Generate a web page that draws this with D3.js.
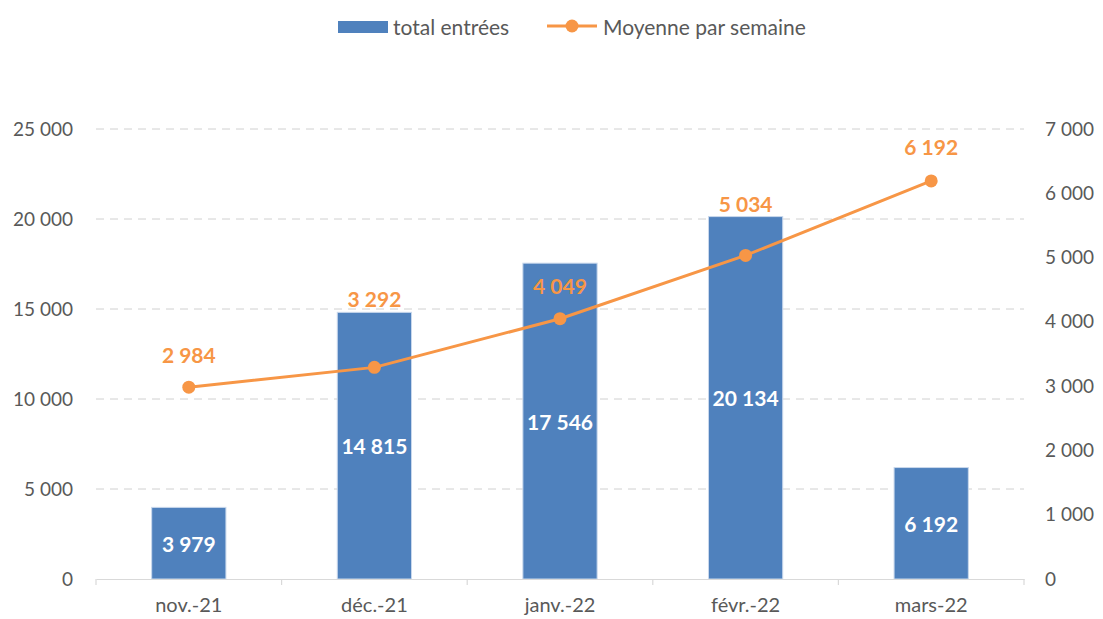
<!DOCTYPE html>
<html>
<head>
<meta charset="utf-8">
<script src="https://cdn.jsdelivr.net/npm/d3@7"></script>
<style>
  html, body { margin: 0; padding: 0; background: #ffffff; }
  svg { display: block; font-family: Lato, "Open Sans", sans-serif; }
</style>
</head>
<body>
<svg id="chart" width="1103" height="619"></svg>
<script>
// ---- data ----
const categories = ["nov.-21", "déc.-21", "janv.-22", "févr.-22", "mars-22"];
const totalEntrees = [3979, 14815, 17546, 20134, 6192];
const moyenneSemaine = [2984, 3292, 4049, 5034, 6192];
const leftTicks = [0, 5000, 10000, 15000, 20000, 25000];
const rightTicks = [0, 1000, 2000, 3000, 4000, 5000, 6000, 7000];
const seriesNames = ["total entrées", "Moyenne par semaine"];

// ---- layout ----
const W = 1103, H = 619;
const plot = { left: 96, right: 1024, top: 129, bottom: 579 };
const lineLabelDy = [-33, -69, -33, -52, -34]; // manual label placement as in the original
const blue = "#4F81BD", orange = "#F79646", textGrey = "#595959", gridGrey = "#D9D9D9";

const fmt = v => d3.format(",")(v).replace(/,/g, " ");

const svg = d3.select("#chart");

const x = d3.scaleBand().domain(categories).range([plot.left, plot.right]).paddingInner(0.6).paddingOuter(0.3);
const xOuter = d3.scaleBand().domain(categories).range([plot.left, plot.right]);
const yL = d3.scaleLinear().domain([0, 25000]).range([plot.bottom, plot.top]);
const yR = d3.scaleLinear().domain([0, 7000]).range([plot.bottom, plot.top]);

// gridlines
svg.append("g").selectAll("line").data(leftTicks.filter(d => d > 0)).join("line")
  .attr("x1", plot.left).attr("x2", plot.right)
  .attr("y1", d => yL(d)).attr("y2", d => yL(d))
  .attr("stroke", "#D0D0D0").attr("stroke-width", 1).attr("stroke-dasharray", "8,6");

// left axis
const axL = svg.append("g").attr("transform", `translate(${plot.left},0)`)
  .call(d3.axisLeft(yL).tickValues(leftTicks).tickFormat(fmt).tickSize(0).tickPadding(23));
axL.select(".domain").remove();
axL.selectAll("text").attr("fill", textGrey).style("font-size", "19px").style("font-family", "Lato, sans-serif");

// right axis
const axR = svg.append("g").attr("transform", `translate(${plot.right},0)`)
  .call(d3.axisRight(yR).tickValues(rightTicks).tickFormat(fmt).tickSize(0).tickPadding(21));
axR.select(".domain").remove();
axR.selectAll("text").attr("fill", textGrey).style("font-size", "19px").style("font-family", "Lato, sans-serif");

// bars
svg.append("g").selectAll("rect").data(categories).join("rect")
  .attr("x", d => x(d)).attr("width", x.bandwidth())
  .attr("y", (d, i) => yL(totalEntrees[i]))
  .attr("height", (d, i) => plot.bottom - yL(totalEntrees[i]))
  .attr("fill", blue).attr("stroke", "#C9D8EC").attr("stroke-width", 1);

// bottom axis
const axB = svg.append("g").attr("transform", `translate(0,${plot.bottom})`)
  .call(d3.axisBottom(xOuter).tickSize(0).tickPadding(19));
axB.select(".domain").attr("stroke", gridGrey).attr("stroke-width", 1.2);
axB.selectAll("text").attr("fill", textGrey).style("font-size", "20px").style("font-family", "Lato, sans-serif");
const bounds = categories.map(c => xOuter(c)).concat([plot.right]);
axB.append("g").selectAll("line").data(bounds).join("line")
  .attr("x1", d => d).attr("x2", d => d).attr("y1", 0).attr("y2", 6)
  .attr("stroke", gridGrey).attr("stroke-width", 1.2);

// bar labels
svg.append("g").selectAll("text").data(categories).join("text")
  .attr("x", d => x(d) + x.bandwidth() / 2)
  .attr("y", (d, i) => (yL(totalEntrees[i]) + plot.bottom) / 2)
  .attr("text-anchor", "middle").attr("dominant-baseline", "central")
  .attr("fill", "#ffffff").style("font-weight", "bold").style("font-size", "21px")
  .text((d, i) => fmt(totalEntrees[i]));

// line
const cx = d => x(d) + x.bandwidth() / 2;
const line = d3.line().x((v, i) => cx(categories[i])).y(v => yR(v));
svg.append("path").datum(moyenneSemaine).attr("d", line)
  .attr("fill", "none").attr("stroke", orange).attr("stroke-width", 3).attr("stroke-linejoin", "round");
svg.append("g").selectAll("circle").data(moyenneSemaine).join("circle")
  .attr("cx", (v, i) => cx(categories[i])).attr("cy", v => yR(v)).attr("r", 6.5)
  .attr("fill", orange);

// line labels
svg.append("g").selectAll("text").data(moyenneSemaine).join("text")
  .attr("x", (v, i) => cx(categories[i]))
  .attr("y", (v, i) => yR(v) + lineLabelDy[i])
  .attr("text-anchor", "middle").attr("dominant-baseline", "central")
  .attr("fill", orange).style("font-weight", "bold").style("font-size", "21px")
  .text(v => fmt(v));

// legend
const leg = svg.append("g");
leg.append("rect").attr("x", 338).attr("y", 21).attr("width", 50).attr("height", 12).attr("fill", blue);
leg.append("text").attr("x", 393).attr("y", 26).attr("dominant-baseline", "central")
  .attr("fill", textGrey).style("font-size", "21px").text(seriesNames[0]);
leg.append("line").attr("x1", 547).attr("x2", 597).attr("y1", 26).attr("y2", 26)
  .attr("stroke", orange).attr("stroke-width", 3);
leg.append("circle").attr("cx", 572).attr("cy", 26).attr("r", 6.5).attr("fill", orange);
leg.append("text").attr("x", 603).attr("y", 26).attr("dominant-baseline", "central")
  .attr("fill", textGrey).style("font-size", "21px").text(seriesNames[1]);
</script>
</body>
</html>
